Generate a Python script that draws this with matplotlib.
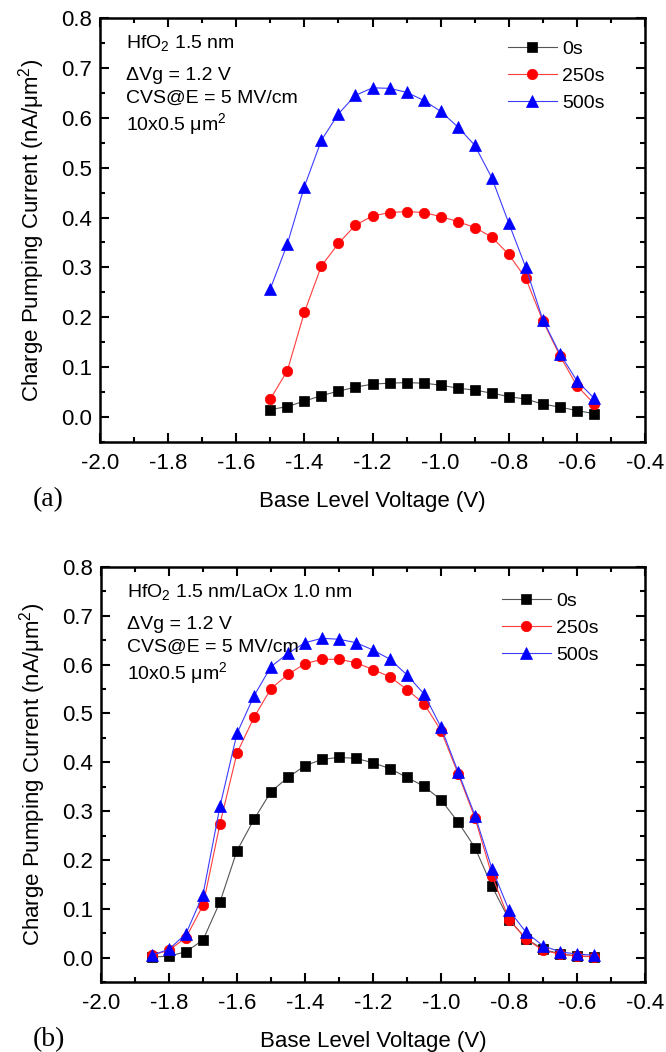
import matplotlib
matplotlib.use("Agg")
import matplotlib.pyplot as plt
from matplotlib.ticker import MultipleLocator

plt.rcParams['font.family'] = ['Liberation Sans', 'DejaVu Sans']
plt.rcParams['mathtext.fontset'] = 'custom'
plt.rcParams['mathtext.rm'] = 'Liberation Sans'
plt.rcParams['mathtext.it'] = 'Liberation Sans:italic'
plt.rcParams['mathtext.default'] = 'regular'

# ---------------- data: panel (a) ----------------
xa = [-1.50, -1.45, -1.40, -1.35, -1.30, -1.25, -1.20, -1.15, -1.10, -1.05,
      -1.00, -0.95, -0.90, -0.85, -0.80, -0.75, -0.70, -0.65, -0.60, -0.55]
a_0s = [0.015, 0.021, 0.032, 0.043, 0.052, 0.060, 0.066, 0.068, 0.069, 0.068,
        0.064, 0.058, 0.054, 0.048, 0.041, 0.036, 0.026, 0.020, 0.013, 0.007]
a_250s = [0.036, 0.093, 0.210, 0.303, 0.348, 0.385, 0.403, 0.410, 0.412, 0.410,
          0.402, 0.392, 0.380, 0.361, 0.326, 0.278, 0.193, 0.123, 0.063, 0.027]
a_500s = [0.257, 0.347, 0.462, 0.555, 0.608, 0.645, 0.660, 0.659, 0.651, 0.635,
          0.613, 0.582, 0.545, 0.480, 0.389, 0.300, 0.195, 0.127, 0.073, 0.038]

# ---------------- data: panel (b) ----------------
xb = [-1.85, -1.80, -1.75, -1.70, -1.65, -1.60, -1.55, -1.50, -1.45, -1.40,
      -1.35, -1.30, -1.25, -1.20, -1.15, -1.10, -1.05, -1.00, -0.95, -0.90,
      -0.85, -0.80, -0.75, -0.70, -0.65, -0.60, -0.55]
b_0s = [0.001, 0.003, 0.012, 0.036, 0.114, 0.219, 0.283, 0.340, 0.369, 0.393,
        0.406, 0.410, 0.408, 0.399, 0.387, 0.369, 0.351, 0.323, 0.278, 0.225,
        0.146, 0.078, 0.039, 0.017, 0.008, 0.003, 0.002]
b_250s = [0.005, 0.015, 0.041, 0.107, 0.274, 0.419, 0.492, 0.551, 0.580, 0.602,
          0.611, 0.611, 0.604, 0.590, 0.575, 0.549, 0.520, 0.465, 0.377, 0.286,
          0.168, 0.078, 0.038, 0.015, 0.007, 0.003, 0.002]
b_500s = [0.005, 0.017, 0.049, 0.129, 0.310, 0.459, 0.536, 0.596, 0.623, 0.645,
          0.654, 0.652, 0.645, 0.630, 0.611, 0.579, 0.540, 0.472, 0.381, 0.291,
          0.182, 0.097, 0.052, 0.024, 0.012, 0.007, 0.005]

series_labels = ['0s', '250s', '500s']
notes_a = [r'HfO$_2$ 1.5 nm', 'ΔVg = 1.2 V', 'CVS@E = 5 MV/cm', r'10x0.5 μm$^2$']
notes_b = [r'HfO$_2$ 1.5 nm/LaOx 1.0 nm', 'ΔVg = 1.2 V', 'CVS@E = 5 MV/cm', r'10x0.5 μm$^2$']
xlabel = 'Base Level Voltage (V)'
ylabel = r'Charge Pumping Current (nA/μm$^2$)'

W, H = 666, 1052
fig = plt.figure(figsize=(W / 100, H / 100), dpi=100)

def px(v):
    return v * 72 / 100.0

styles = [
    dict(marker='s', mfc='black', mec='black', ms=7, line='#555555'),
    dict(marker='o', mfc='red', mec='red', ms=7.5, line='#ff3c3c'),
    dict(marker='^', mfc='blue', mec='blue', ms=8.5, line='#3c3cff'),
]

def make_panel(rect, x, ys, notes, tag, tag_y, leg_top):
    ax = fig.add_axes(rect)
    for y, st, lab in zip(ys, styles, series_labels):
        ax.plot(x, y, color=st['line'], lw=0.8, marker=st['marker'], ms=st['ms'],
                mfc=st['mfc'], mec=st['mec'], mew=0.5, label=lab)
    ax.set_xlim(-2.0, -0.4)
    ax.set_ylim(-0.05, 0.8)
    ax.xaxis.set_major_locator(MultipleLocator(0.2))
    ax.xaxis.set_minor_locator(MultipleLocator(0.1))
    ax.yaxis.set_major_locator(MultipleLocator(0.1))
    ax.yaxis.set_minor_locator(MultipleLocator(0.05))
    ax.xaxis.set_major_formatter(matplotlib.ticker.FormatStrFormatter('%.1f'))
    ax.yaxis.set_major_formatter(matplotlib.ticker.FormatStrFormatter('%.1f'))
    ax.tick_params(which='both', direction='in', top=True, right=True, width=1.5)
    ax.tick_params(which='major', length=6.5, labelsize=16)
    ax.tick_params(which='minor', length=3.6)
    ax.tick_params(axis='x', which='major', pad=8)
    ax.tick_params(axis='y', which='major', pad=6)
    for s in ax.spines.values():
        s.set_linewidth(1.8)
    ax.set_xlabel(xlabel, fontsize=16, labelpad=12)
    ax.set_ylabel(ylabel, fontsize=16, labelpad=10)
    offs = [30, 62, 85, 112]
    for t, o in zip(notes, offs):
        ax.annotate(t, xy=(0, 1), xycoords='axes fraction',
                    xytext=(px(26), -px(o)), textcoords='offset points',
                    fontsize=14, va='baseline', ha='left')
    ax.legend(loc='upper left', bbox_to_anchor=leg_top, frameon=False,
              fontsize=14, handlelength=2.5, handletextpad=0.3,
              labelspacing=0.5, borderpad=0, borderaxespad=0, numpoints=1)
    fig.text(33 / W, 1 - tag_y / H, tag, fontsize=20, family='Liberation Serif',
             ha='left', va='center')
    return ax

axa = make_panel([100 / W, 1 - 442 / H, 545 / W, 424 / H], xa, [a_0s, a_250s, a_500s],
                 notes_a, '(a)', 500, ((508 - 100) / 545, 1 - 22 / 424))
axb = make_panel([101 / W, 1 - 982 / H, 544 / W, 415 / H], xb, [b_0s, b_250s, b_500s],
                 notes_b, '(b)', 1040, ((502 - 101) / 544, 1 - 25 / 415))

fig.savefig('out.png', dpi=100)
